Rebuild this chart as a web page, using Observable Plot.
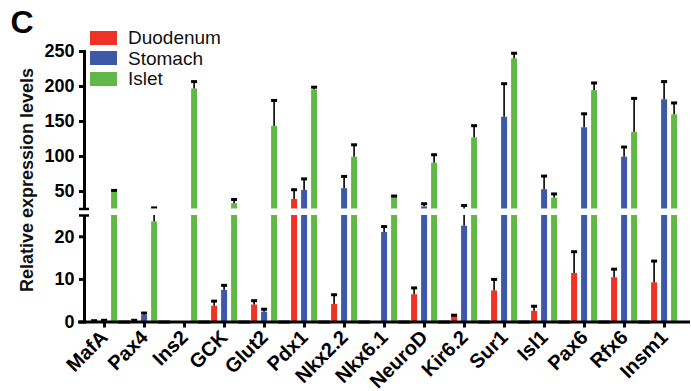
<!DOCTYPE html>
<html>
<head>
<meta charset="utf-8">
<script src="https://cdn.jsdelivr.net/npm/d3@7"></script>
<script src="https://cdn.jsdelivr.net/npm/@observablehq/plot@0.6"></script>
<style>
html,body{margin:0;padding:0;background:#fff;}
#wrap{position:relative;width:691px;height:391px;overflow:hidden;font-family:Arial,"Liberation Sans",Helvetica,sans-serif;}
#wrap svg{position:absolute;left:0;top:0;}
.panel{position:absolute;left:10.5px;top:6px;font-size:32px;font-weight:bold;line-height:1;color:#000;}
.ytitle{position:absolute;left:-123px;top:170px;width:300px;height:20px;line-height:20px;text-align:center;font-size:18px;font-weight:bold;color:#111;transform:rotate(-90deg);white-space:nowrap;}
.legend{position:absolute;left:90px;top:27.25px;}
.legend .row{display:flex;align-items:center;height:20.5px;}
.legend .sw{width:27px;height:14px;margin-right:11px;}
.legend .lab{font-size:19px;line-height:1;color:#111;}
</style>
</head>
<body>
<div id="wrap"></div>
<script>
const genes = ["MafA","Pax4","Ins2","GCK","Glut2","Pdx1","Nkx2.2","Nkx6.1","NeuroD","Kir6.2","Sur1","Isl1","Pax6","Rfx6","Insm1"];
const tissues = ["Duodenum","Stomach","Islet"];
const colors = ["#ee3324","#3e58a8","#62b847"];

const duodenum    = [0.1, 0.2, 0, 3.7, 4.0, 38.5, 4.1, 0, 6.4, 1.3, 7.3, 2.5, 11.4, 10.4, 9.2];
const duodenumErr = [0.2, 0.2, 0, 1.2, 1.0, 14, 2.3, 0, 1.6, 0.3, 2.7, 1.2, 5.1, 2.0, 5.1];
const stomach     = [0.2, 1.5, 0, 7.4, 2.3, 51.5, 54, 21, 28, 22.5, 156, 52.5, 141, 99, 181];
const stomachErr  = [0.2, 0.6, 0, 1.2, 0.7, 16.5, 17.5, 1.4, 4.5, 7.5, 48, 19.5, 20, 14.5, 26];
const islet       = [49, 23.5, 196.5, 32.5, 143, 195, 99, 42, 90.5, 126.5, 239.5, 40.5, 194, 134.5, 159.5];
const isletErr    = [2.5, 3, 10.5, 6, 37, 4, 17.7, 1.5, 12, 17.5, 8, 6, 11, 48.5, 17];

const yTicks = [0, 10, 20, 50, 100, 150, 200, 250];
const yMax = 250;
// broken axis: lower segment 0–25, upper segment 25–250 compressed
const breakAt = 25;
const breakGap = 1.53;       // gap between segments, in lower-segment units
const upperRatio = 0.1643;   // upper-segment units per lower-segment unit
const brk = v => v <= breakAt ? v : breakAt + breakGap + (v - breakAt) * upperRatio;
const axisBreak = [{low: brk(breakAt), high: breakAt + breakGap}];
const tickPos = yTicks.map(brk);

const series = [duodenum, stomach, islet];
const seriesErr = [duodenumErr, stomachErr, isletErr];
const rows = [];
genes.forEach((g, i) => {
  tissues.forEach((t, k) => {
    rows.push({gene: g, tissue: t, value: series[k][i], err: seriesErr[k][i]});
  });
});
const errRows = rows.filter(d => d.value > 0);

const chart = Plot.plot({
  width: 691,
  height: 391,
  marginLeft: 81.9,
  marginRight: 5.2,
  marginTop: 51,
  marginBottom: 69.5,
  style: {background: "transparent", color: "#000", fontFamily: "Arial, 'Liberation Sans', Helvetica, sans-serif"},
  fx: {domain: genes, paddingInner: 0, paddingOuter: 0},
  x: {domain: tissues, paddingInner: 0.3636, paddingOuter: 0.512, axis: null},
  y: {domain: [brk(0), brk(yMax)]},
  color: {domain: tissues, range: colors},
  marks: [
    Plot.frame({anchor: "left", facetAnchor: "left", strokeWidth: 3}),
    Plot.barY(rows, {fx: "gene", x: "tissue", y: d => brk(d.value), fill: "tissue"}),
    Plot.barY(errRows, {fx: "gene", x: "tissue", y1: d => brk(d.value), y2: d => brk(d.value + d.err), fill: "#000", insetLeft: 2.2, insetRight: 2.2}),
    Plot.tickY(errRows, {fx: "gene", x: "tissue", y: d => brk(d.value + d.err), strokeWidth: 3}),
    Plot.rect(axisBreak, {y1: "low", y2: "high", fill: "white", insetLeft: -4}),
    Plot.axisY({ticks: tickPos, tickFormat: t => yTicks[tickPos.indexOf(t)], tickSize: 5, tickPadding: 5, strokeWidth: 3, fontSize: 18, fontWeight: "bold", label: null}),
    Plot.axisY({ticks: [axisBreak[0].low, axisBreak[0].high], tickSize: 5, strokeWidth: 2.5, tickFormat: () => "", label: null}),
    Plot.axisY({ticks: [axisBreak[0].low, axisBreak[0].high], tickSize: -5, strokeWidth: 2.5, tickFormat: () => "", label: null}),
    Plot.ruleY([0], {strokeWidth: 3, insetLeft: -6, insetRight: -6}),
    Plot.axisFx({anchor: "bottom", tickSize: 6, tickPadding: 6, strokeWidth: 3, tickRotate: -45, fontSize: 20, fontWeight: "bold", label: null})
  ]
});

const wrap = document.getElementById("wrap");
wrap.appendChild(chart);

const panel = document.createElement("div");
panel.className = "panel";
panel.textContent = "C";
wrap.appendChild(panel);

const ytitle = document.createElement("div");
ytitle.className = "ytitle";
ytitle.textContent = "Relative expression levels";
wrap.appendChild(ytitle);

const legend = document.createElement("div");
legend.className = "legend";
tissues.forEach((t, k) => {
  const row = document.createElement("div");
  row.className = "row";
  const sw = document.createElement("div");
  sw.className = "sw";
  sw.style.background = colors[k];
  const lab = document.createElement("span");
  lab.className = "lab";
  lab.textContent = t;
  row.appendChild(sw);
  row.appendChild(lab);
  legend.appendChild(row);
});
wrap.appendChild(legend);
</script>
</body>
</html>
